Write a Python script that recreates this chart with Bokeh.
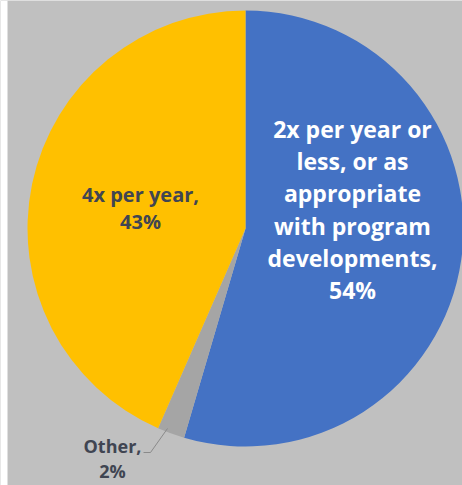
import math
from bokeh.plotting import figure
from bokeh.models import Range1d
from bokeh.core.properties import value
from bokeh.embed import file_html
from bokeh.resources import INLINE

# Data
categories = ["2x per year or\nless, or as\nappropriate\nwith program\ndevelopments,\n54%",
              "Other,\n2%",
              "4x per year,\n43%"]
shares = [54, 2, 43]
colors = ["#4472C4", "#A5A5A5", "#FFC000"]

W, H = 462, 485
p = figure(width=W, height=H, output_backend="svg", toolbar_location=None,
           x_range=Range1d(0, W), y_range=Range1d(0, H), min_border=0)
p.axis.visible = False
p.grid.visible = False
p.outline_line_color = None
p.background_fill_color = "#C0C0C0"
p.border_fill_color = "#C0C0C0"

# white strip on left edge
p.quad(left=[0], right=[7], bottom=[0], top=[H], fill_color="white", line_color=None)

cx, cy, r = 245, H - 228, 218
total = sum(shares)
start = math.pi / 2
for s, c in zip(shares, colors):
    end = start - s / total * 2 * math.pi
    p.wedge(x=[cx], y=[cy], radius=r, start_angle=start, end_angle=end,
            direction="clock", fill_color=c, line_color=None)
    start = end

font = value("Open Sans")
# blue label
p.text(x=[352], y=[H - 209], text=[categories[0]], text_font=font, text_font_style="bold",
       text_font_size="23px", text_color="white", text_align="center",
       text_baseline="middle", text_line_height=1.01)
# yellow label
p.text(x=[140], y=[H - 207], text=[categories[2]], text_font=font, text_font_style="bold",
       text_font_size="20px", text_color="#404552", text_align="center",
       text_baseline="middle", text_line_height=1.0)
# other label
p.text(x=[112], y=[H - 458], text=[categories[1]], text_font=font, text_font_style="bold",
       text_font_size="18px", text_color="#404552", text_align="center",
       text_baseline="middle", text_line_height=1.06)
# leader line
p.line(x=[143, 150, 167], y=[H - 452, H - 452, H - 428], line_color="#8a8a8a", line_width=1)

open("out.html", "w").write(file_html(p, INLINE))
